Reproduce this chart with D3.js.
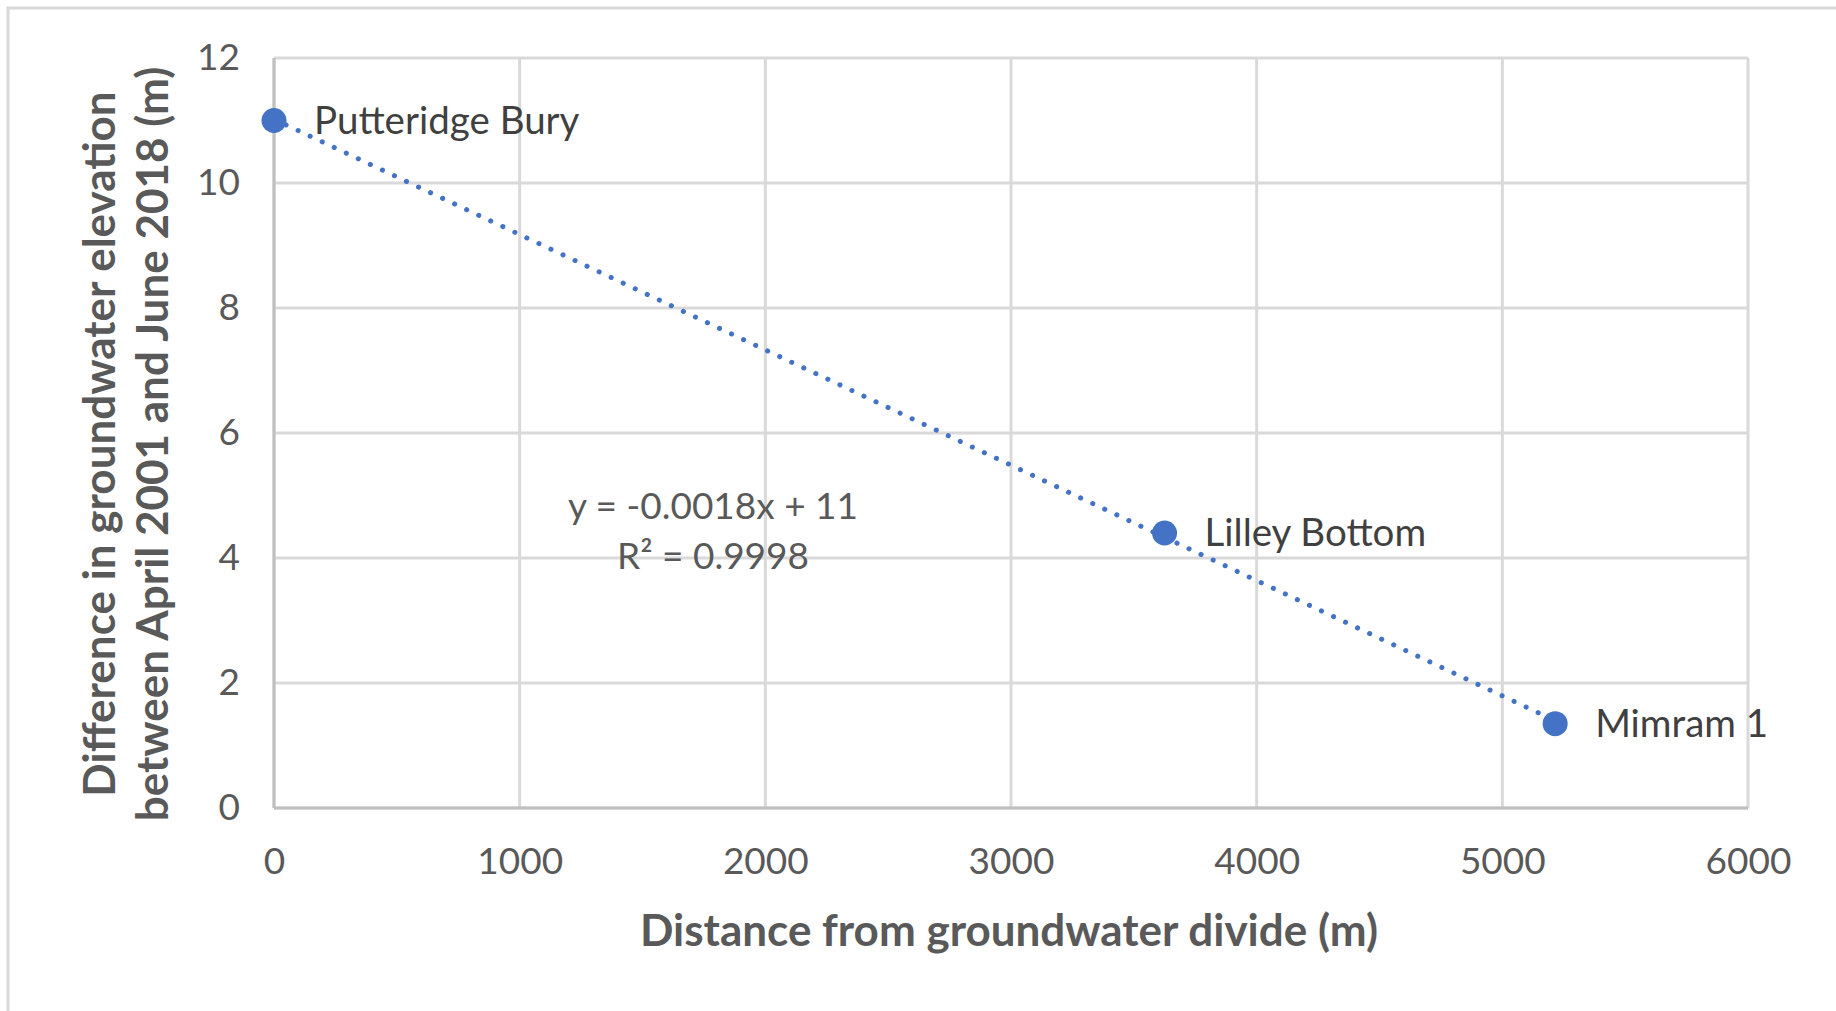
<!DOCTYPE html>
<html>
<head>
<meta charset="utf-8">
<script src="https://cdn.jsdelivr.net/npm/d3@7"></script>
<style>
  body { margin: 0; background: #ffffff; }
  text { font-family: Lato, "Open Sans", sans-serif; }
</style>
</head>
<body>
<div id="chart"></div>
<script>
// Data
var siteNames = ["Putteridge Bury", "Lilley Bottom", "Mimram 1"];
var distances = [0, 3625, 5215];          // m from groundwater divide
var elevationDiffs = [11.0, 4.4, 1.35];   // m
var xTicks = [0, 1000, 2000, 3000, 4000, 5000, 6000];
var yTicks = [0, 2, 4, 6, 8, 10, 12];
var equationLines = ["y = -0.0018x + 11", "R\u00b2 = 0.9998"];

var points = siteNames.map(function(name, i) {
    return {name: name, x: distances[i], y: elevationDiffs[i]};
});

// Set up the dimensions
var W = 1836, H = 1011;
var margin = {top: 58, right: 88, bottom: 203, left: 274},
    width = W - margin.left - margin.right,
    height = H - margin.top - margin.bottom;

var svg = d3.select("#chart")
            .append("svg")
            .attr("width", W)
            .attr("height", H);

// Outer chart border (only top and left show in the crop)
svg.append("path")
   .attr("d", "M8," + H + "V8H" + W)
   .attr("fill", "none")
   .attr("stroke", "#d9d9d9")
   .attr("stroke-width", 3);

var g = svg.append("g")
           .attr("transform", "translate(" + margin.left + "," + margin.top + ")");

var x = d3.scaleLinear().domain([0, 6000]).range([0, width]);
var y = d3.scaleLinear().domain([0, 12]).range([height, 0]);

// Gridlines
g.append("g")
 .selectAll("line.vgrid")
 .data(xTicks)
 .enter()
 .append("line")
 .attr("x1", function(d) { return x(d); })
 .attr("x2", function(d) { return x(d); })
 .attr("y1", 0)
 .attr("y2", height)
 .attr("stroke", "#d9d9d9")
 .attr("stroke-width", 3);

g.append("g")
 .selectAll("line.hgrid")
 .data(yTicks)
 .enter()
 .append("line")
 .attr("x1", 0)
 .attr("x2", width)
 .attr("y1", function(d) { return y(d); })
 .attr("y2", function(d) { return y(d); })
 .attr("stroke", "#d9d9d9")
 .attr("stroke-width", 3);

// Axes (lines hidden, labels only)
var xAxis = g.append("g")
             .attr("transform", "translate(0," + height + ")")
             .call(d3.axisBottom(x).tickValues(xTicks).tickSize(0).tickPadding(40).tickFormat(d3.format("d")));
var yAxis = g.append("g")
             .call(d3.axisLeft(y).tickValues(yTicks).tickSize(0).tickPadding(34).tickFormat(d3.format("d")));

[xAxis, yAxis].forEach(function(ax) {
    ax.select(".domain").remove();
    ax.selectAll("text")
      .attr("fill", "#595959")
      .style("font-size", "37px")
      .style("font-family", "Lato, sans-serif");
});

// Bottom and left axis lines
g.append("line")
 .attr("x1", 0).attr("x2", width)
 .attr("y1", height).attr("y2", height)
 .attr("stroke", "#bfbfbf")
 .attr("stroke-width", 3);
g.append("line")
 .attr("x1", 0).attr("x2", 0)
 .attr("y1", 0).attr("y2", height)
 .attr("stroke", "#bfbfbf")
 .attr("stroke-width", 3);

// Axis titles
svg.append("text")
   .attr("x", margin.left + x(3000) - 2)
   .attr("y", 931)
   .attr("dy", "0.35em")
   .attr("text-anchor", "middle")
   .attr("fill", "#595959")
   .style("font-size", "44px")
   .style("font-weight", "bold")
   .text("Distance from groundwater divide (m)");

var yTitle = svg.append("text")
   .attr("transform", "translate(126,444) rotate(-90)")
   .attr("text-anchor", "middle")
   .attr("fill", "#595959")
   .style("font-size", "44px")
   .style("font-weight", "bold");
yTitle.append("tspan").attr("x", 0).attr("dy", "-0.25em").text("Difference in groundwater elevation");
yTitle.append("tspan").attr("x", 0).attr("dy", "1.2em").text("between April 2001 and June 2018 (m)");

// Linear trendline (least squares through the points)
var mx = d3.mean(points, function(d) { return d.x; }),
    my = d3.mean(points, function(d) { return d.y; });
var slope = d3.sum(points, function(d) { return (d.x - mx) * (d.y - my); }) /
            d3.sum(points, function(d) { return (d.x - mx) * (d.x - mx); });
var intercept = my - slope * mx;
var xr = d3.extent(points, function(d) { return d.x; });

g.append("path")
 .datum(xr.map(function(v) { return {x: v, y: intercept + slope * v}; }))
 .attr("fill", "none")
 .attr("stroke", "#4472c4")
 .attr("stroke-width", 5)
 .attr("stroke-linecap", "round")
 .attr("stroke-dasharray", "0.1 13.2")
 .attr("d", d3.line()
              .x(function(d) { return x(d.x); })
              .y(function(d) { return y(d.y); }));

// Markers
g.selectAll("circle")
 .data(points)
 .enter()
 .append("circle")
 .attr("cx", function(d) { return x(d.x); })
 .attr("cy", function(d) { return y(d.y); })
 .attr("r", 12.5)
 .attr("fill", "#4472c4");

// Data labels
g.selectAll("text.label")
 .data(points)
 .enter()
 .append("text")
 .attr("class", "label")
 .attr("x", function(d) { return x(d.x) + 40; })
 .attr("y", function(d) { return y(d.y); })
 .attr("dy", "0.35em")
 .attr("fill", "#404040")
 .style("font-size", "38.5px")
 .text(function(d) { return d.name; });

// Trendline equation
svg.append("g")
   .selectAll("text")
   .data(equationLines)
   .enter()
   .append("text")
   .attr("x", 713)
   .attr("y", function(d, i) { return 506 + i * 50; })
   .attr("dy", "0.35em")
   .attr("text-anchor", "middle")
   .attr("fill", "#595959")
   .style("font-size", "37px")
   .text(function(d) { return d; });
</script>
</body>
</html>
